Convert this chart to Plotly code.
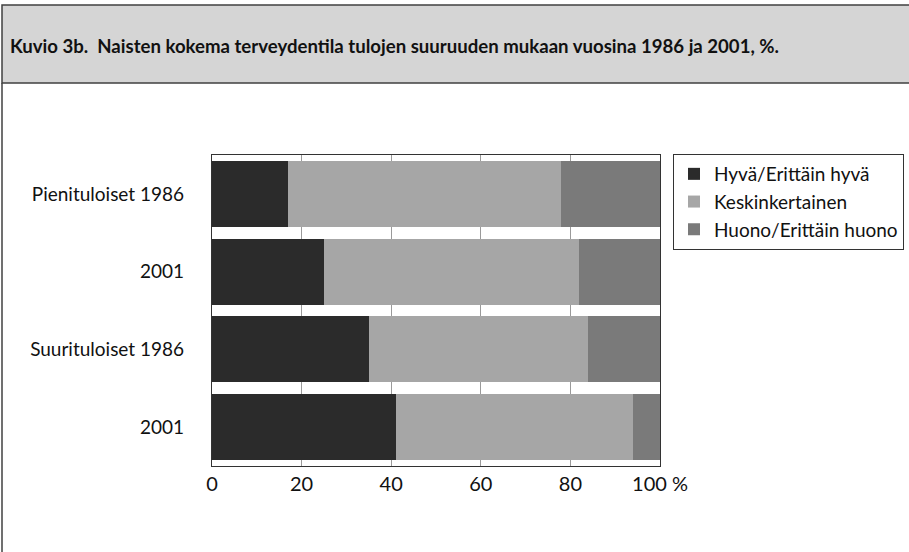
import plotly.graph_objects as go

# Self-rated health of women by income group, 1986 and 2001 (%)
groups = ["Pienituloiset 1986", "2001", "Suurituloiset 1986", "2001"]
good = [17, 25, 35, 41]       # Hyvä/Erittäin hyvä
average = [61, 57, 49, 53]    # Keskinkertainen
poor = [22, 18, 16, 6]        # Huono/Erittäin huono

series_names = ["Hyvä/Erittäin hyvä", "Keskinkertainen", "Huono/Erittäin huono"]
series_values = [good, average, poor]
series_colors = ["#2b2b2b", "#a6a6a6", "#7a7a7a"]

x_ticks = [0, 20, 40, 60, 80, 100]
x_ticktext = ["0", "20", "40", "60", "80", "100 %"]

FONT = "Lato, Roboto, sans-serif"

W, H = 909, 552
L, R, T, B = 212, 249, 155, 86
pw, ph = W - L - R, H - T - B

def px_x(px):
    return (px - L) / pw

def px_y(py):
    return (H - B - py) / ph

ypos = list(range(len(groups)))

fig = go.Figure()
for name, vals, col in zip(series_names, series_values, series_colors):
    fig.add_trace(go.Bar(
        y=ypos, x=vals, name=name, orientation="h", legendgroup=name,
        marker=dict(color=col, line=dict(width=0)),
        hoverinfo="x+name",
    ))

# title band
fig.add_shape(type="rect", xref="paper", yref="paper",
              x0=px_x(2), x1=px_x(915), y0=px_y(83), y1=px_y(5),
              fillcolor="#d5d5d5", line=dict(color="#404040", width=1.5), layer="below")
# outer frame left edge
fig.add_shape(type="line", xref="paper", yref="paper",
              x0=px_x(2), x1=px_x(2), y0=px_y(83), y1=px_y(560),
              line=dict(color="#404040", width=1.5))

fig.add_annotation(
    text="<b>Kuvio 3b.  Naisten kokema terveydentila tulojen suuruuden mukaan vuosina 1986 ja 2001, %.</b>",
    xref="paper", yref="paper", x=px_x(8), y=px_y(46),
    xanchor="left", yanchor="middle", showarrow=False,
    font=dict(family=FONT, size=18.6, color="#111111"),
)

fig.update_layout(
    width=W, height=H,
    margin=dict(l=L, r=R, t=T, b=B, pad=0, autoexpand=False),
    paper_bgcolor="white", plot_bgcolor="white",
    barmode="stack", bargap=0.15,
    font=dict(family=FONT, size=19, color="#111111"),
    showlegend=True,
    legend=dict(
        x=px_x(673), y=px_y(154), xanchor="left", yanchor="top",
        bordercolor="#333333", borderwidth=1, bgcolor="white",
        font=dict(family=FONT, size=19, color="#111111"),
        traceorder="normal", itemwidth=30, tracegroupgap=7,
    ),
)

fig.update_xaxes(
    range=[0, 100], tickvals=x_ticks, ticktext=x_ticktext,
    showgrid=True, gridcolor="#9a9a9a", gridwidth=1,
    showline=True, linecolor="#333333", linewidth=1.2, mirror=True,
    ticks="", zeroline=False, fixedrange=True,
    tickfont=dict(family=FONT, size=20),
)
fig.update_yaxes(
    range=[len(groups) - 0.5, -0.5],
    tickvals=ypos, ticktext=groups,
    showgrid=False, showline=True, linecolor="#333333", linewidth=1.2, mirror=True,
    ticks="", ticklabelstandoff=23, zeroline=False, fixedrange=True,
    tickfont=dict(family=FONT, size=19),
)

fig.write_html("out.html")
